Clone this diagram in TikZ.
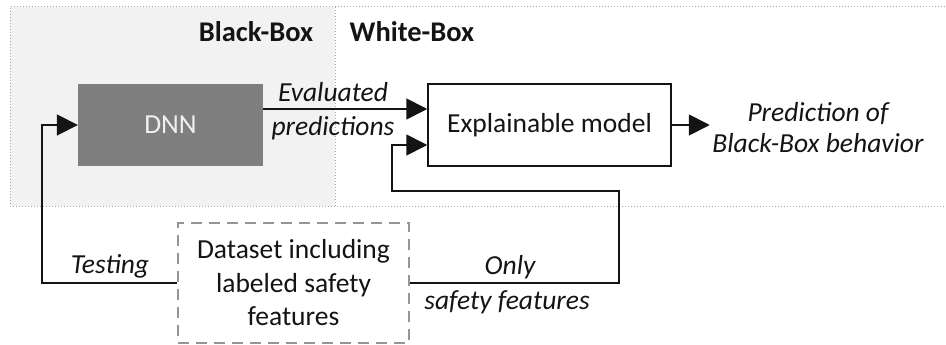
\documentclass[tikz,border=0pt]{standalone}
\usepackage{fontspec}
\setmainfont{Carlito}
\usetikzlibrary{arrows.meta}
\definecolor{zonegray}{HTML}{F2F2F2}
\definecolor{dotgray}{HTML}{A6A6A6}
\definecolor{dnnfill}{HTML}{7F7F7F}
\definecolor{dashgray}{HTML}{959595}
\definecolor{inkblack}{HTML}{141414}
\tikzset{
  zoneline/.style={draw=dotgray, line width=1pt, dotted},
  flow/.style={draw=inkblack, line width=1.8pt, -{Triangle[length=21pt,width=21pt]}},
  blockbox/.style={draw=inkblack, line width=1.5pt, fill=white, minimum width=243pt, minimum height=82pt,
    text=inkblack, font=\fontsize{27.5}{32}\selectfont},
  dnnbox/.style={fill=dnnfill, minimum width=185pt, minimum height=82pt, text=white!94!black,
    font=\fontsize{27.5}{32}\selectfont},
  databox/.style={draw=dashgray, line width=1.8pt, dash pattern=on 11pt off 7pt, fill=white,
    minimum width=231pt, minimum height=120pt, align=center, text=inkblack,
    font=\fontsize{27.5}{33.5}\selectfont},
  zonetitle/.style={text=inkblack, font=\fontsize{28.5}{32}\selectfont\bfseries},
  italabel/.style={text=inkblack, font=\fontsize{27.5}{31}\selectfont\itshape, align=center, inner sep=0pt},
}
\begin{document}
\begin{tikzpicture}[x=1pt,y=-1pt]
  \useasboundingbox (0,0) rectangle (946,345);
  % black-box zone and its dotted frame
  \fill[zonegray] (10,7) rectangle (335,206);
  \draw[zoneline] (945,7) -- (10,7) -- (10,206) -- (945,206);
  \draw[zoneline] (335,7) -- (335,206);
  \node[zonetitle] (bbtitle) at (256,32) {Black-Box};
  \node[zonetitle] (wbtitle) at (412,32) {White-Box};

  % blocks
  \node[dnnbox] (dnn) at (170.5,125) {DNN};
  \node[blockbox] (expl) at (549.5,125) {Explainable model};
  \node[databox] (data) at (293.5,283) {Dataset including\\labeled safety\\features};
  \node[italabel] (out) at (818,128) {Prediction of\\Black-Box behavior};

  % connectors
  \coordinate (testcorner) at (42,283);
  \coordinate (loopright) at (619,283);
  \coordinate (looptop) at (619,191);
  \coordinate (loopleft) at (392,191);
  \draw[flow] (dnn.east |- 0,109) -- (expl.west |- 0,109);
  \draw[flow] (expl.east) -- ++(38,0);
  \draw[flow] (data.west) -- (testcorner) |- (dnn.west);
  \draw[flow] (data.east) -- (loopright) -- (looptop) -- (loopleft) |- (expl.west |- 0,145);

  % connector labels
  \node[italabel] (lblevaluated) at (333,92) {Evaluated};
  \node[italabel] (lblpredictions) at (333,128) {predictions};
  \node[italabel] (lbltesting) at (110,266) {Testing};
  \node[italabel] (lblonly) at (510,267) {Only};
  \node[italabel] (lblsafety) at (507,302) {safety features};
\end{tikzpicture}
\end{document}
